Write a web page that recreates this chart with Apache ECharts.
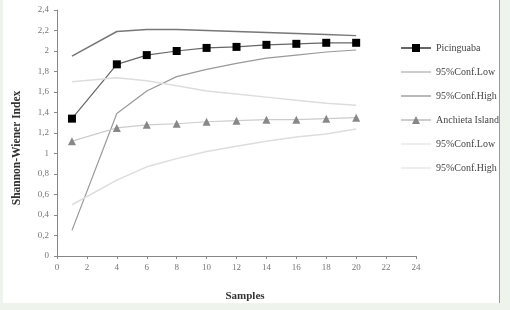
<!DOCTYPE html>
<html>
<head>
<meta charset="utf-8">
<script src="https://cdn.jsdelivr.net/npm/echarts@6/dist/echarts.min.js"></script>
<style>
  html, body { margin: 0; padding: 0; background: #eef3ec; }
  #chart { position: absolute; left: 3px; top: 0; width: 496px; height: 303px; background: #fff; border-right: 1px solid #999; }
</style>
</head>
<body>
<div id="chart"></div>
<script>
// samples on the x axis
const samples = [1, 4, 6, 8, 10, 12, 14, 16, 18, 20]

// Picinguaba
const picinguaba = [1.34, 1.87, 1.96, 2.0, 2.03, 2.04, 2.06, 2.07, 2.08, 2.08]
const picLow = [0.25, 1.39, 1.61, 1.75, 1.82, 1.88, 1.93, 1.96, 1.99, 2.01]
const picHigh = [1.95, 2.19, 2.21, 2.21, 2.2, 2.19, 2.18, 2.17, 2.16, 2.15]

// Anchieta Island
const anchieta = [1.12, 1.25, 1.28, 1.29, 1.31, 1.32, 1.33, 1.33, 1.34, 1.35]
const ancLow = [0.5, 0.74, 0.87, 0.95, 1.02, 1.07, 1.12, 1.16, 1.19, 1.24]
const ancHigh = [1.7, 1.74, 1.71, 1.66, 1.61, 1.58, 1.55, 1.52, 1.49, 1.47]

const font = 'Liberation Serif'
const toPairs = (vals) => samples.map((s, i) => [s, vals[i]])
const comma = (v) => String(v).replace('.', ',')
// thin line legend icon (tiny corner dots keep the box 30x10)
const lineIcon = 'path://M0,0h0.01v0.01h-0.01z M0,4.5h30v1h-30z M30,10h0.01v0.01h-0.01z'

const lineSeries = (name, vals, color, width, symbol, symbolSize, symbolColor) => ({
    name,
    type: 'line',
    data: toPairs(vals),
    symbol: symbol || 'none',
    symbolSize: symbolSize || 0,
    showSymbol: !!symbol,
    lineStyle: { color, width },
    itemStyle: { color: symbolColor || color },
    emphasis: { disabled: true },
    animation: false,
})

const chart = echarts.init(document.getElementById('chart'))
chart.setOption({
    animation: false,
    grid: { left: 54, right: 83, top: 10, bottom: 47 },
    legend: {
        orient: 'vertical',
        left: 397,
        top: 43,
        padding: 0,
        itemWidth: 30,
        itemHeight: 10,
        itemGap: 14,
        textStyle: { fontFamily: font, fontSize: 10, color: '#444' },
        data: [
            { name: 'Picinguaba' },
            { name: '95%Conf.Low', icon: lineIcon },
            { name: '95%Conf.High', icon: lineIcon },
            { name: 'Anchieta Island' },
            { name: '95%Conf.Low ', icon: lineIcon },
            { name: '95%Conf.High ', icon: lineIcon },
        ],
    },
    graphic: [
        {
            type: 'text',
            rotation: Math.PI / 2,
            x: 17 - 3, y: 148,
            style: { text: 'Shannon-Wiener Index', font: 'bold 11.5px "Liberation Serif"', fill: '#333', align: 'center', verticalAlign: 'middle' },
        },
        {
            type: 'text',
            x: 245 - 3, y: 296,
            style: { text: 'Samples', font: 'bold 11px "Liberation Serif"', fill: '#333', align: 'center', verticalAlign: 'middle' },
        },
    ],
    xAxis: {
        type: 'value',
        min: 0,
        max: 24,
        interval: 2,
        axisLine: { lineStyle: { color: '#888' } },
        axisTick: { show: true, length: 3, lineStyle: { color: '#888' } },
        axisLabel: { fontFamily: font, fontSize: 9, color: '#777', margin: 7 },
        splitLine: { show: false },
    },
    yAxis: {
        type: 'value',
        min: 0,
        max: 2.4,
        interval: 0.2,
        axisLine: { show: true, lineStyle: { color: '#888' } },
        axisTick: { show: true, length: 3, lineStyle: { color: '#888' } },
        axisLabel: { fontFamily: font, fontSize: 9, color: '#777', margin: 8, formatter: comma },
        splitLine: { show: false },
    },
    series: [
        lineSeries('Picinguaba', picinguaba, '#666', 1.2, 'rect', 8, '#000'),
        lineSeries('95%Conf.Low', picLow, '#999', 1.2),
        lineSeries('95%Conf.High', picHigh, '#777', 1.5),
        lineSeries('Anchieta Island', anchieta, '#ccc', 1.2, 'triangle', 8, '#888'),
        lineSeries('95%Conf.Low ', ancLow, '#ddd', 1.5),
        lineSeries('95%Conf.High ', ancHigh, '#ddd', 1.5),
    ],
})
</script>
</body>
</html>
